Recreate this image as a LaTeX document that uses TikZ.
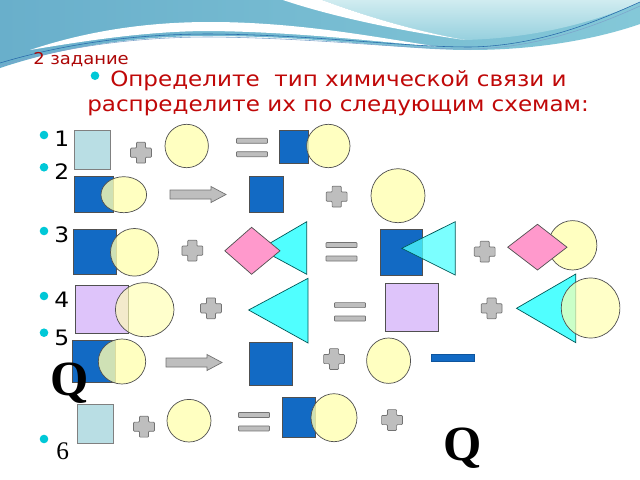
\documentclass[tikz,border=0pt]{standalone}
\usepackage{fontspec}
\newfontfamily\slidefont[FakeStretch=1.1]{DejaVu Sans}
\newfontfamily\qfont{Liberation Serif}
\definecolor{waveA}{RGB}{105,175,203}
\definecolor{waveB}{RGB}{132,200,216}
\definecolor{waveL}{RGB}{208,236,240}
\definecolor{waveM}{RGB}{150,208,222}
\definecolor{waveline}{RGB}{40,105,170}
\definecolor{edge}{RGB}{80,80,80}
\definecolor{sqblue}{RGB}{18,106,196}
\definecolor{sqlight}{RGB}{185,222,228}
\definecolor{sqlilac}{RGB}{222,196,250}
\definecolor{yellowball}{RGB}{255,255,178}
\definecolor{pinkrh}{RGB}{255,153,204}
\definecolor{cyantri}{RGB}{80,255,255}
\definecolor{markgray}{RGB}{190,190,190}
\definecolor{titlered}{RGB}{192,8,8}
\definecolor{dotcyan}{RGB}{0,200,215}
\usetikzlibrary{positioning}

\tikzset{
  crossmark/.pic={
    \draw[grayfig,rounded corners=0.6pt] (-4.6,-10.4) -- (4.6,-10.4) -- (4.6,-4.6)
      -- (10.4,-4.6) -- (10.4,4.6) -- (4.6,4.6) -- (4.6,10.4) -- (-4.6,10.4)
      -- (-4.6,4.6) -- (-10.4,4.6) -- (-10.4,-4.6) -- (-4.6,-4.6) -- cycle;},
  eqbars/.pic={
    \draw[grayfig,rounded corners=0.5pt] (-15.5,-9.2) rectangle (15.5,-4.2);
    \draw[grayfig,rounded corners=0.5pt] (-15.5,4.2) rectangle (15.5,9.2);},
  blockarrow/.pic={
    \draw[grayfig] (0,-4.5) -- (41,-4.5) -- (41,-8) -- (56,0) -- (41,8)
      -- (41,4.5) -- (0,4.5) -- cycle;}
}

\begin{document}
\begin{tikzpicture}[x=0.025cm,y=-0.025cm,
    grayfig/.style={fill=markgray,draw=gray!90!black,line width=0.5pt},
    boxblue/.style={fill=sqblue,draw=edge,line width=0.5pt},
    boxlight/.style={fill=sqlight,draw=gray,line width=0.5pt},
    boxlilac/.style={fill=sqlilac,draw=edge,line width=0.5pt},
    ball/.style={fill=yellowball,fill opacity=0.8,draw=edge,line width=0.5pt},
    rhomb/.style={fill=pinkrh,draw=edge,line width=0.5pt},
    tri/.style={fill=cyantri,draw=teal!70!black,line width=0.5pt},
    hdr/.style={font=\slidefont\fontsize{11.6}{13}\selectfont,text=titlered!90!black,anchor=base west,inner sep=0pt},
    head/.style={font=\slidefont\fontsize{14.9}{17}\selectfont,text=titlered,anchor=base west,inner sep=0pt},
    numlbl/.style={font=\slidefont\fontsize{15.1}{17}\selectfont,anchor=base west,inner sep=0pt},
    qlbl/.style={font=\qfont\bfseries\fontsize{35}{37}\selectfont,anchor=base,inner sep=0pt},
    dot/.style={fill=dotcyan}]
  \useasboundingbox (0,0) rectangle (640,480);
  \fill[white] (0,0) rectangle (640,480);

  % waves on top
  \shade[left color=waveA,right color=waveB] (0,0) -- (640,0) -- (640,24)
    .. controls (600,38) and (540,50) .. (470,50)
    .. controls (400,50) and (320,36) .. (210,36)
    .. controls (130,36) and (60,48) .. (0,68) -- cycle;
  \shade[top color=waveL,bottom color=waveM] (322,0) -- (640,0) -- (640,2)
    .. controls (600,20) and (540,38) .. (465,40)
    .. controls (420,32) and (370,18) .. (322,0) -- cycle;
  \fill[white] (283,0) -- (322,0) .. controls (370,18) and (420,32) .. (465,40)
    .. controls (400,31) and (330,16) .. (283,0) -- cycle;
  \fill[white] (30,50) .. controls (90,30) and (150,22) .. (210,22)
    .. controls (300,22) and (380,38) .. (440,47)
    .. controls (380,42) and (300,32) .. (210,31)
    .. controls (150,31) and (90,40) .. (30,50) -- cycle;
  \draw[waveline,line width=0.4pt] (0,63) .. controls (60,45) and (130,34) .. (210,34)
    .. controls (320,35) and (400,47) .. (470,47) .. controls (540,46) and (600,20) .. (640,2);
  \draw[waveline!60,line width=0.4pt] (0,66) .. controls (60,48) and (130,37) .. (210,37)
    .. controls (320,38) and (400,49) .. (470,49) .. controls (540,48) and (600,24) .. (640,6);

  % title
  \node[hdr] (task) at (33,64.3) {2 задание};
  \fill[dot] (95,75.7) circle [radius=4.3];
  \node[head] (line1) at (110,86.5) {Определите\ \ тип химической связи и};
  \node[head] (line2) at (87,111.5) {распределите их по следующим схемам:};

  % numbered rows
  \foreach \n/\yb/\yd in {1/146/135,2/179.3/167.3,3/242.3/231,4/307.7/296,5/345/332.7} {
    \fill[dot] (44,\yd) circle [radius=4.3];
    \node[numlbl] (num\n) at (54,\yb) {\n};
  }
  \fill[dot] (44,439) circle [radius=4.3];
  \node[font=\qfont\fontsize{18}{20}\selectfont,anchor=base west,inner sep=0pt] (num6) at (56,459.3) {6};

  % row 1
  \draw[boxlight] (74.3,130) rectangle (110.7,169.3);
  \pic at (141,152.7) {crossmark};
  \draw[ball] (186.7,146) circle [radius=21.7];
  \pic at (252,147.5) {eqbars};
  \draw[boxblue] (279.3,130) rectangle (308.3,163.3);
  \draw[ball] (328.3,146) circle [radius=21.7];

  % row 2
  \draw[boxblue] (74.3,176.7) rectangle (113.3,212.3);
  \draw[ball] (123.8,194.7) ellipse [x radius=22.8,y radius=18];
  \pic at (170,194.5) {blockarrow};
  \draw[boxblue] (249.3,176.7) rectangle (283.3,212.3);
  \pic at (336.7,196.7) {crossmark};
  \draw[ball] (398,195.7) circle [radius=27];

  % row 3
  \draw[boxblue] (73,229) rectangle (116.5,274.3);
  \draw[ball] (134.5,252.3) ellipse [x radius=24,y radius=23.8];
  \pic at (192.3,250.7) {crossmark};
  \draw[tri] (260,249) -- (306.7,221.7) -- (306.7,274.3) -- cycle;
  \draw[rhomb] (224.8,250.8) -- (251.6,227.3) -- (280,250.8) -- (251.6,274.3) -- cycle;
  \pic at (341.5,251.8) {eqbars};
  \draw[boxblue] (380.6,229) rectangle (422.7,275);
  \draw[tri,fill opacity=0.75] (401.7,248.3) -- (455.2,221.7) -- (455.2,275) -- cycle;
  \pic at (484.7,251.7) {crossmark};
  \draw[ball] (572.6,245.3) ellipse [x radius=24.3,y radius=24.7];
  \draw[rhomb] (507.7,247.2) -- (537.5,224.3) -- (567,247.2) -- (537.5,270) -- cycle;

  % row 4
  \draw[boxlilac] (75.2,285) rectangle (128.8,333.3);
  \draw[ball,fill opacity=0.65] (144.7,309.7) ellipse [x radius=29.3,y radius=27];
  \pic at (211,308.3) {crossmark};
  \draw[tri] (248.6,310) -- (308,278.3) -- (308,343) -- cycle;
  \pic at (350,311.8) {eqbars};
  \draw[boxlilac] (385.6,283.3) rectangle (438.8,331.7);
  \pic at (491.6,308.3) {crossmark};
  \draw[tri] (516.5,308.3) -- (575.8,274) -- (575.8,342.7) -- cycle;
  \draw[ball,fill opacity=0.7] (590.6,308) ellipse [x radius=29.3,y radius=30];

  % row 5
  \draw[boxblue] (72,340) rectangle (115,382);
  \draw[ball] (122,361.5) ellipse [x radius=23.7,y radius=22.5];
  \pic at (166,362.5) {blockarrow};
  \draw[boxblue] (249,342.7) rectangle (292,385.7);
  \pic at (334,359) {crossmark};
  \draw[ball] (388.6,360.7) ellipse [x radius=22,y radius=22.7];
  \draw[fill=sqblue,draw=sqblue!80!black,line width=0.5pt] (431,354) rectangle (474,361);

  % row 6
  \draw[boxlight] (77,404) rectangle (113,443);
  \pic at (144,426.7) {crossmark};
  \draw[ball] (189,420.7) ellipse [x radius=22,y radius=21.3];
  \pic at (254,421.7) {eqbars};
  \draw[boxblue] (282,397) rectangle (315,437);
  \draw[ball] (334,417.7) ellipse [x radius=23,y radius=24];
  \pic at (392,420) {crossmark};

  \node[qlbl] (q1) at (70,395) {Q};
  \node[qlbl] (q2) at (463,460) {Q};
\end{tikzpicture}
\end{document}
